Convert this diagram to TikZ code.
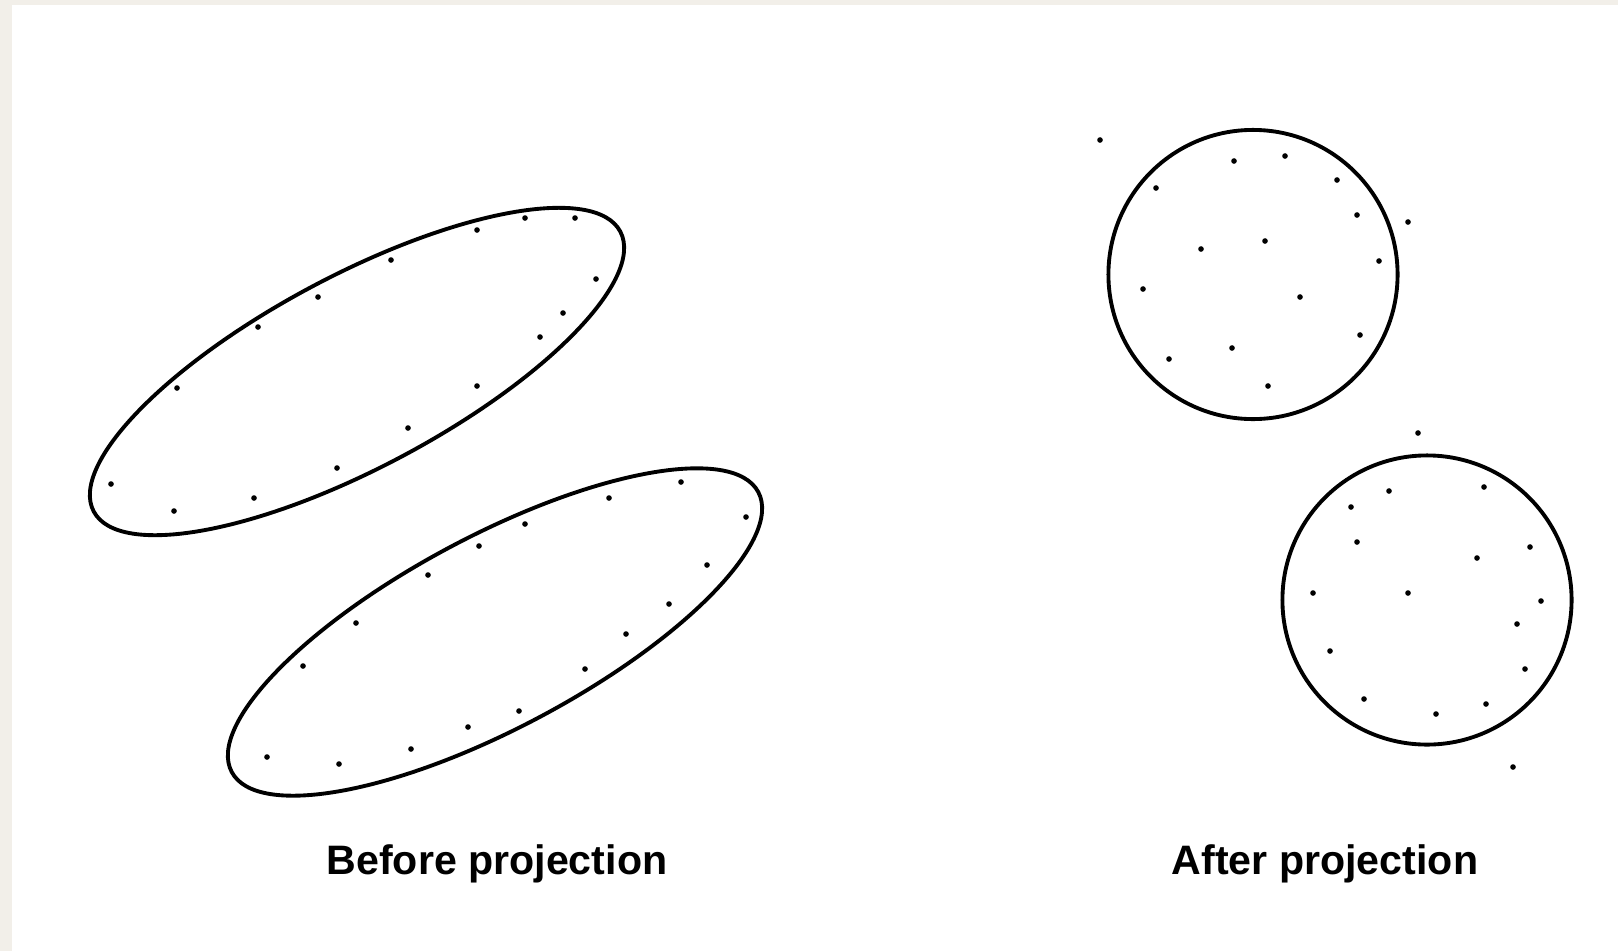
\documentclass[tikz,border=0pt]{standalone}
\usepackage{fontspec}
\newfontfamily\capfont{Liberation Sans}
\definecolor{paper}{HTML}{F2EFE9}
\tikzset{
  outline/.style={line width=1.1pt},
  pt/.style={fill=black},
  caption/.style={font=\capfont\bfseries\fontsize{11.7}{14}\selectfont,anchor=base,inner sep=0pt}
}

\begin{document}
\begin{tikzpicture}[x=0.01cm,y=-0.01cm]
  \useasboundingbox (0,0) rectangle (1618,951);
  \fill[paper] (0,0) rectangle (1618,951);
  \fill[white] (12,5) rectangle (1618,951);
  % before: two elongated clusters
  \draw[outline,rotate around={28:(357,371.5)}] (357,371.5) ellipse[x radius=2.98cm,y radius=0.96cm];
  \draw[outline,rotate around={28:(495,632)}] (495,632) ellipse[x radius=2.98cm,y radius=0.96cm];
  \foreach \x/\y in {525/218,575/218,477/230,391/260,318/297,258/327,177/388,596/279,
    563/313,540/337,477/386,408/428,337/468,111/484,174/511,254/498}
    \fill[pt] (\x,\y) circle[radius=0.8pt];
  \foreach \x/\y in {681/482,609/498,525/524,479/546,428/575,356/623,303/666,746/517,
    707/565,669/604,626/634,585/669,519/711,468/727,411/749,339/764,267/757}
    \fill[pt] (\x,\y) circle[radius=0.8pt];
  % after: round clusters
  \draw[outline] (1253,274.5) circle[radius=1.445cm];
  \draw[outline] (1427,600) circle[radius=1.445cm];
  \foreach \x/\y in {1100/140,1234/161,1285/156,1156/188,1337/180,1357/215,1408/222,
    1265/241,1201/249,1379/261,1143/289,1300/297,1360/335,1232/348,1169/359,1268/386,1418/433}
    \fill[pt] (\x,\y) circle[radius=0.8pt];
  \foreach \x/\y in {1389/491,1484/487,1351/507,1357/542,1530/547,1477/558,1313/593,
    1408/593,1541/601,1517/624,1330/651,1525/669,1364/699,1486/704,1436/714,1513/767}
    \fill[pt] (\x,\y) circle[radius=0.8pt];
  \node[caption] (before) at (497,874) {Before projection};
  \node[caption] (after) at (1325,874) {After projection};
\end{tikzpicture}
\end{document}
